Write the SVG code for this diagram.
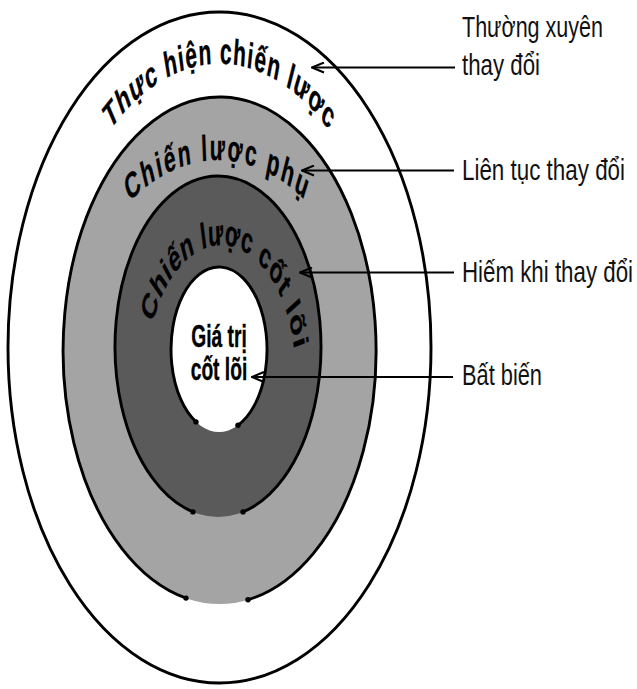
<svg xmlns="http://www.w3.org/2000/svg" width="637" height="689" viewBox="0 0 637 689">
<style>
.ring{stroke:#000;stroke-width:2.9;fill:none;stroke-linecap:round}
.dot{fill:#000}
.lbl{font-family:"Liberation Sans",Arial,sans-serif;font-size:30px;fill:#111}
.curv{font-family:"Liberation Sans",Arial,sans-serif;font-weight:bold;font-size:36px;fill:#000;stroke:#000;stroke-width:0.4}
.conn{stroke:#000;stroke-width:2;fill:none;marker-end:url(#ah)}
</style>
<defs>
<marker id="ah" markerWidth="14" markerHeight="12" refX="13" refY="6" orient="auto" markerUnits="userSpaceOnUse">
<path d="M1,1 L13,6 L1,11" fill="none" stroke="#000" stroke-width="2"/>
</marker>
<path id="p1" d="M -80.8,364.3 A 300.7 300.7 0 0 1 520.6,364.3"/>
<path id="p2" d="M -83.7,461 A 301 301 0 0 1 518.3,461"/>
<path id="p3" d="M 94.6,373.4 A 128.2 128.2 0 0 1 351,373.4"/>
</defs>
<rect width="637" height="689" fill="#fff"/>

<g id="outer">
<ellipse cx="219.5" cy="347.5" rx="211.5" ry="335.5" fill="#fff" stroke="#000" stroke-width="2.9"/>
</g>

<g id="secondary">
<ellipse cx="219.5" cy="350.5" rx="156.5" ry="253.5" fill="#a4a4a4"/>
<path class="ring" d="M248,599.8 A156.5 253.5 0 1 0 186,598.1"/>
<circle class="dot" cx="186" cy="598.1" r="2.7"/>
<circle class="dot" cx="248" cy="599.8" r="2.7"/>
</g>

<g id="core-strategy">
<ellipse cx="218" cy="346.5" rx="103" ry="170.5" fill="#5a5a5a"/>
<path class="ring" d="M243,511.9 A103 170.5 0 1 0 193,511.9"/>
<circle class="dot" cx="193" cy="511.9" r="2.7"/>
<circle class="dot" cx="243" cy="511.9" r="2.7"/>
</g>

<g id="core-values">
<ellipse cx="219" cy="349.5" rx="48" ry="82.5" fill="#fff"/>
<path class="ring" d="M238,425.3 A48 82.5 0 1 0 196,421.9"/>
<circle class="dot" cx="196" cy="421.9" r="2.7"/>
<circle class="dot" cx="238" cy="425.3" r="2.7"/>
</g>

<g id="ring-labels" transform="matrix(0.58,0,0,1,91.98,0)">
<text class="curv" letter-spacing="2"><textPath href="#p1" startOffset="473.3" text-anchor="middle">Thực hiện chiến lược</textPath></text>
<text class="curv" letter-spacing="3.8"><textPath href="#p2" startOffset="472" text-anchor="middle">Chiến lược phụ</textPath></text>
<text class="curv" letter-spacing="1.2"><textPath href="#p3" startOffset="215.4" text-anchor="middle">Chiến lược cốt lõi</textPath></text>
</g>

<g id="center-label" transform="matrix(0.62,0,0,1,83.22,0)">
<text class="curv" style="font-size:31px" x="219" y="347" text-anchor="middle">Giá trị</text>
<text class="curv" style="font-size:31px" x="219" y="380" text-anchor="middle">cốt lõi</text>
</g>

<g id="connectors">
<line class="conn" x1="455" y1="67.5" x2="312" y2="67.5"/>
<line class="conn" x1="454" y1="170.5" x2="302" y2="170.5"/>
<line class="conn" x1="454" y1="272.5" x2="300" y2="272.5"/>
<line class="conn" x1="453" y1="377" x2="252" y2="377"/>
</g>

<g id="labels">
<text class="lbl" x="462" y="37" textLength="141" lengthAdjust="spacingAndGlyphs">Thường xuyên</text>
<text class="lbl" x="462" y="75" textLength="78" lengthAdjust="spacingAndGlyphs">thay đổi</text>
<text class="lbl" x="462" y="180" textLength="163" lengthAdjust="spacingAndGlyphs">Liên tục thay đổi</text>
<text class="lbl" x="462" y="282" textLength="171" lengthAdjust="spacingAndGlyphs">Hiếm khi thay đổi</text>
<text class="lbl" x="462" y="385" textLength="80" lengthAdjust="spacingAndGlyphs">Bất biến</text>
</g>
</svg>
